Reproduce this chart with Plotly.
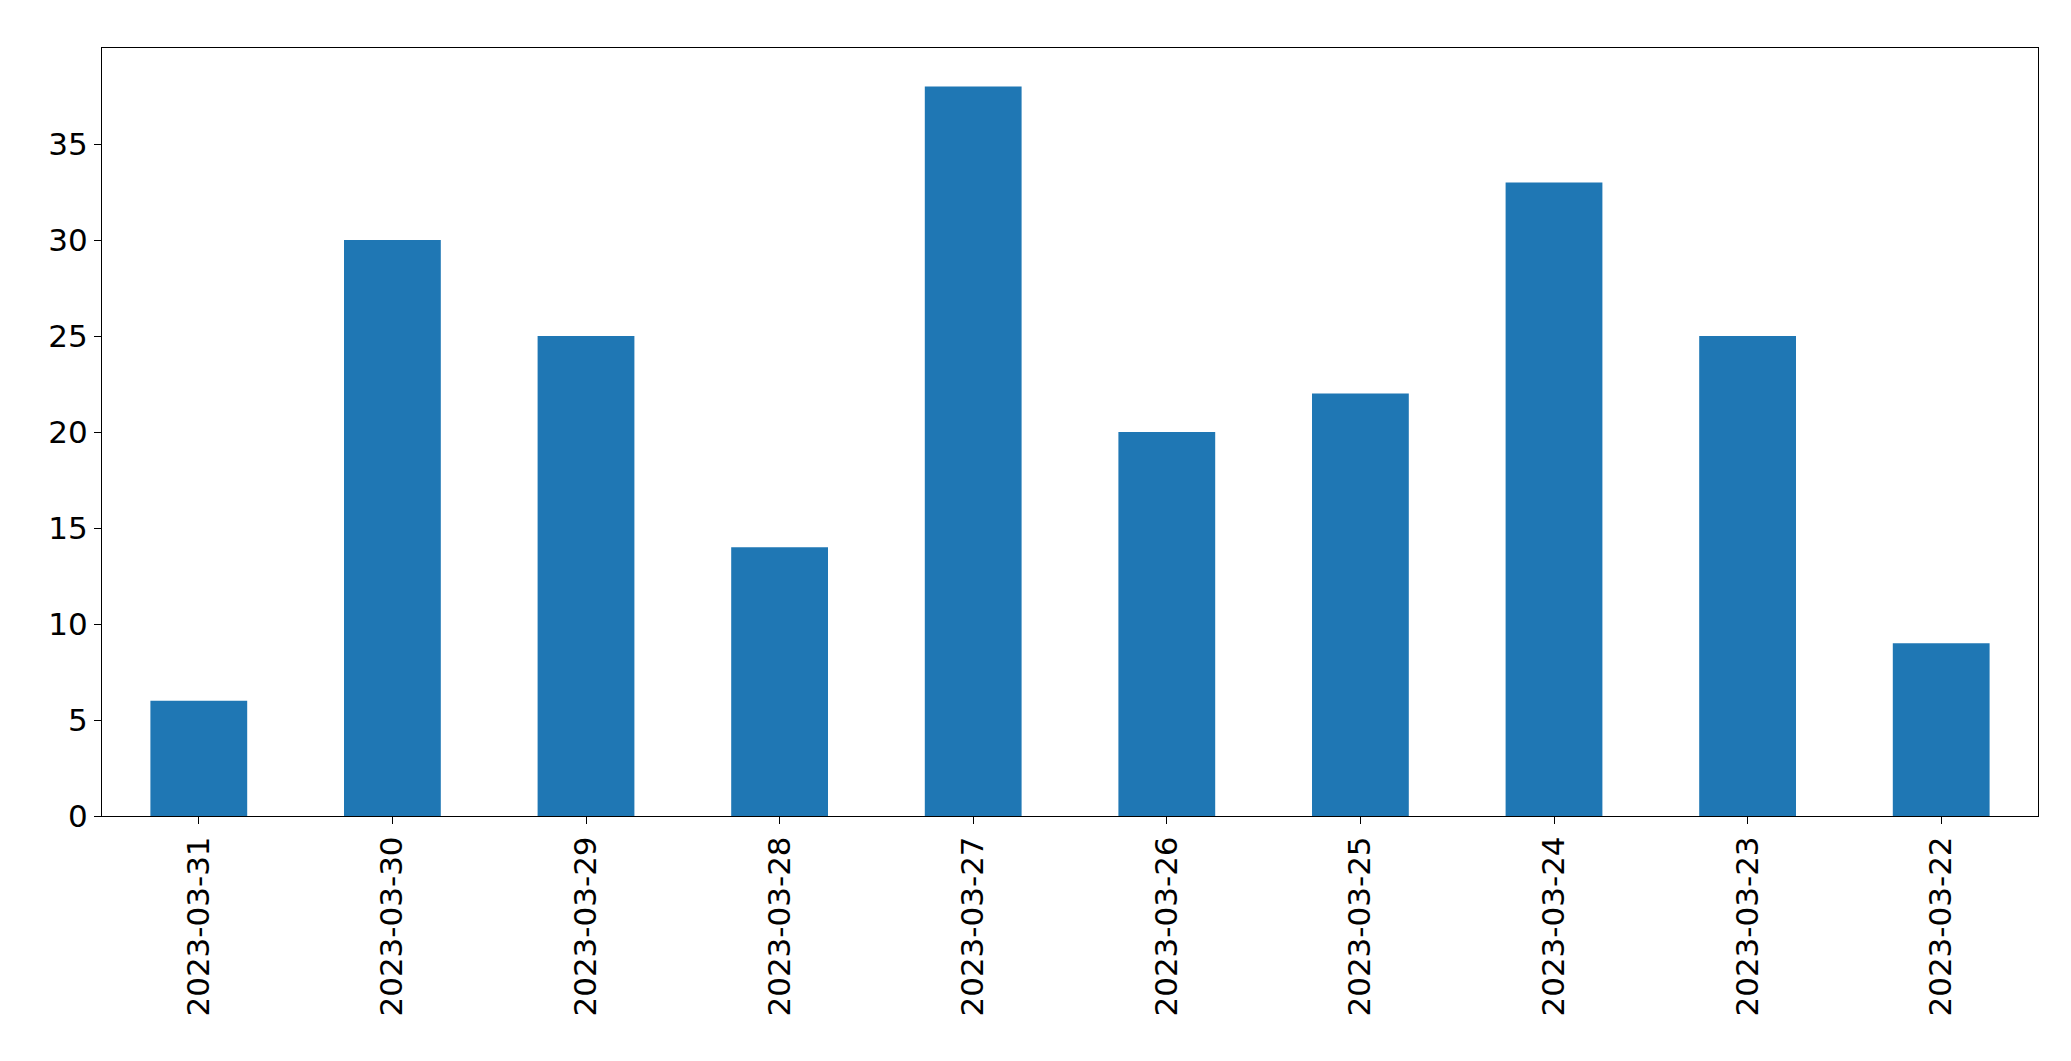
import plotly.graph_objects as go

dates = ["2023-03-31","2023-03-30","2023-03-29","2023-03-28","2023-03-27",
         "2023-03-26","2023-03-25","2023-03-24","2023-03-23","2023-03-22"]
counts = [6, 30, 25, 14, 38, 20, 22, 33, 25, 9]

fig = go.Figure(go.Bar(x=dates, y=counts, marker_color="#1f77b4", width=0.5,
                       marker_line_width=0))
fig.update_layout(
    width=2071, height=1061, plot_bgcolor="white", paper_bgcolor="white",
    margin=dict(l=94, r=41, t=40, b=253), showlegend=False,
    font=dict(family="DejaVu Sans", size=31, color="black"),
)
fig.update_xaxes(type="category", range=[-0.5, 9.5], tickangle=-90,
                 showline=True, linecolor="black", linewidth=1, mirror=True,
                 ticks="outside", ticklen=7, tickcolor="black", showgrid=False)
fig.update_yaxes(range=[0, 40], tickvals=[0,5,10,15,20,25,30,35],
                 showline=True, linecolor="black", linewidth=1, mirror=True,
                 ticks="outside", ticklen=7, tickcolor="black", showgrid=False,
                 zeroline=False)
fig.write_html("out.html")
